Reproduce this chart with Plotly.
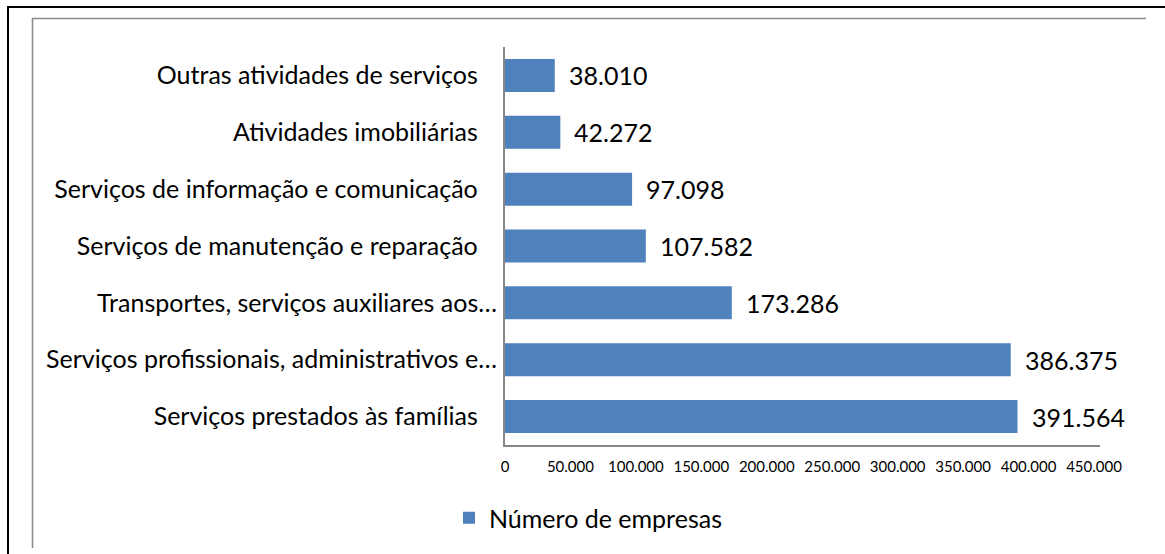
import plotly.graph_objects as go

categories = [
    "Outras atividades de serviços",
    "Atividades imobiliárias",
    "Serviços de informação e comunicação",
    "Serviços de manutenção e reparação",
    "Transportes, serviços auxiliares aos…",
    "Serviços profissionais, administrativos e…",
    "Serviços prestados às famílias",
]
values = [38010, 42272, 97098, 107582, 173286, 386375, 391564]
value_labels = ["38.010", "42.272", "97.098", "107.582", "173.286", "386.375", "391.564"]
tick_vals = [0, 50000, 100000, 150000, 200000, 250000, 300000, 350000, 400000, 450000]
series_name = "Número de empresas"

W, H = 1165, 554
L, R, T, B = 505, 71, 47, 109
PW, PH = W - L - R, H - T - B

def px(x):
    return (x - L) / PW

def py(y):
    return (H - B - y) / PH

FONT = "Lato"
BLUE = "#4F81BD"

# the source labels carry a trailing space unless they were truncated with "…"
tick_text = [c if c.endswith("…") else c + "\u00a0" * 3 for c in categories]

fig = go.Figure()
fig.add_trace(go.Bar(
    x=values, y=categories, orientation="h",
    marker=dict(color=BLUE, line=dict(width=0)),
    name=series_name, showlegend=True,
))

annotations = []
for c, v, t in zip(categories, values, value_labels):
    annotations.append(dict(
        x=v, y=c, xref="x", yref="y", text=t, showarrow=False,
        xanchor="left", yanchor="middle", xshift=12,
        font=dict(family=FONT, size=25, color="#000000"),
    ))

shapes = [
    # outer black frame
    dict(type="rect", xref="paper", yref="paper",
         x0=px(8), x1=px(1185), y0=py(7), y1=py(600),
         line=dict(color="#000000", width=2)),
    # inner gray frame (top + left)
    dict(type="line", xref="paper", yref="paper",
         x0=px(32), x1=px(1146), y0=py(18.5), y1=py(18.5),
         line=dict(color="#8C8C8C", width=1.6)),
    dict(type="line", xref="paper", yref="paper",
         x0=px(32.5), x1=px(32.5), y0=py(18), y1=py(548),
         line=dict(color="#8C8C8C", width=1.6)),
    # axis line continues slightly past the last tick
    dict(type="line", xref="paper", yref="paper",
         x0=1.0, x1=px(1100), y0=-1.0 / PH, y1=-1.0 / PH,
         line=dict(color="#868686", width=2)),
]

fig.update_layout(
    width=W, height=H,
    margin=dict(l=L, r=R, t=T, b=B, pad=0),
    paper_bgcolor="white", plot_bgcolor="white",
    separators=",.",
    bargap=0.42,
    font=dict(family=FONT, color="#000000"),
    xaxis=dict(
        range=[0, 450000], tickvals=tick_vals, tickformat=",d",
        showgrid=False, zeroline=False,
        showline=True, linecolor="#868686", linewidth=2,
        ticks="", tickfont=dict(family=FONT, size=15, color="#000000"),
        ticklabelstandoff=7,
    ),
    yaxis=dict(
        autorange="reversed", showgrid=False, zeroline=False,
        showline=True, linecolor="#868686", linewidth=2,
        tickvals=categories, ticktext=tick_text,
        ticks="", tickfont=dict(family=FONT, size=25, color="#000000"),
        ticklabelstandoff=1,
    ),
    legend=dict(
        orientation="h", x=px(449), y=py(518), xanchor="left", yanchor="middle",
        font=dict(family=FONT, size=25, color="#000000"),
        itemwidth=30, bgcolor="rgba(0,0,0,0)",
    ),
    annotations=annotations,
    shapes=shapes,
)

fig.write_html(
    "out.html",
    config={"displayModeBar": False},
    post_script="document.body.style.margin='0';document.body.style.overflow='hidden';window.dispatchEvent(new Event('resize'));",
)
